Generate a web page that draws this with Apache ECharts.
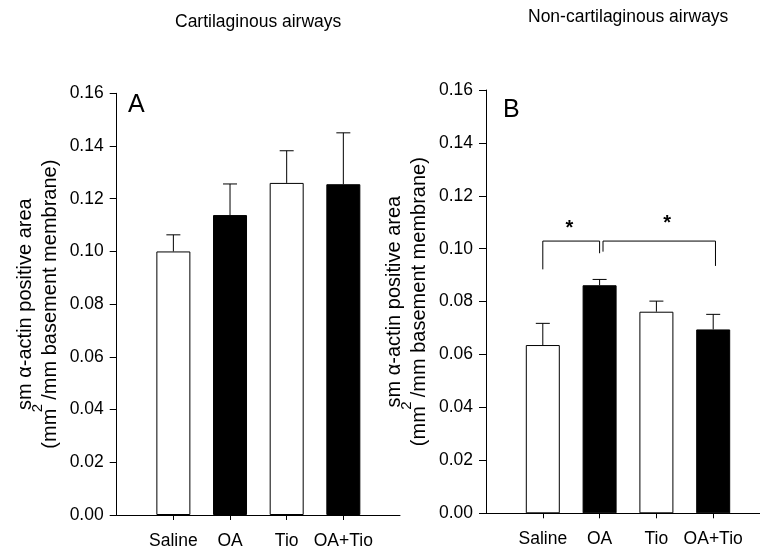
<!DOCTYPE html>
<html><head><meta charset="utf-8">
<script src="https://cdn.jsdelivr.net/npm/echarts@6/dist/echarts.min.js"></script>
<style>html,body{margin:0;padding:0;background:#fff}#c{width:760px;height:555px}</style>
</head><body><div id="c"></div>
<script>
// ---- data ----
const categories = ['Saline', 'OA', 'Tio', 'OA+Tio'];
const yMin = 0, yMax = 0.16, yStep = 0.02;
const panelTitles = ['Cartilaginous airways', 'Non-cartilaginous airways'];
const panelLetters = ['A', 'B'];
const cartMean = [0.1000, 0.1138, 0.1260, 0.1255];
const cartErr = [0.0063, 0.0118, 0.0122, 0.0195];
const nonCartMean = [0.0636, 0.0862, 0.0762, 0.0695];
const nonCartErr = [0.0082, 0.0022, 0.0040, 0.0057];
// significance brackets (panel B), x in category positions (Saline = 1)
const bracketFrom = [1, 2.06];
const bracketTo = [2, 4.04];
const bracketTop = [0.1029, 0.1029];
const bracketLeftEnd = [0.0922, 0.0989];
const bracketRightEnd = [0.0983, 0.0935];
const bracketStarX = [1.47, 3.19];
const bracketStarY = [0.1090, 0.1110];
const bracketLabel = ['*', '*'];

// ---- styles ----
const FONT = 'Liberation Sans, Arial, sans-serif';
const barFill = ['#ffffff', '#000000', '#ffffff', '#000000'];
const axisCats = [''].concat(categories, ['']);

function barData(means) {
  return [null].concat(means.map((v, i) => ({
    value: v,
    itemStyle: { color: barFill[i], borderColor: '#000', borderWidth: 1 }
  })), [null]);
}
function errData(means, errs) {
  return means.map((m, i) => [i + 1, m, errs[i]]);
}
function xPix(api, v) {
  const i = Math.floor(v);
  const a = api.coord([i, 0])[0], b = api.coord([i + 1, 0])[0];
  return a + (b - a) * (v - i);
}
function errRender(params, api) {
  const x = api.value(0), m = api.value(1), e = api.value(2);
  const p0 = api.coord([x, m]), p1 = api.coord([x, m + e]);
  const cap = 7;
  return {
    type: 'group', children: [
      { type: 'line', shape: { x1: p0[0], y1: p0[1], x2: p1[0], y2: p1[1] }, style: { stroke: '#000', lineWidth: 1 } },
      { type: 'line', shape: { x1: p1[0] - cap, y1: p1[1], x2: p1[0] + cap, y2: p1[1] }, style: { stroke: '#000', lineWidth: 1 } }
    ]
  };
}
function bracketRender(params, api) {
  const x0 = xPix(api, api.value(0)), x1 = xPix(api, api.value(1));
  const yT = api.coord([1, api.value(2)])[1];
  const yL = api.coord([1, api.value(3)])[1];
  const yR = api.coord([1, api.value(4)])[1];
  const xs = xPix(api, api.value(5));
  const ys = api.coord([1, api.value(6)])[1];
  return {
    type: 'group', children: [
      { type: 'polyline', shape: { points: [[x0, yL], [x0, yT], [x1, yT], [x1, yR]] }, style: { stroke: '#000', lineWidth: 1, fill: 'none' } },
      { type: 'text', x: xs, y: ys + 4, style: { text: bracketLabel[params.dataIndex], font: 'bold 20px ' + FONT, fill: '#000', align: 'center', verticalAlign: 'middle' } }
    ]
  };
}

const yName = '{a|sm α-actin positive area}\n{s|2}\n{b|(mm}{g| }{b|/mm basement membrane)}';
const yNameStyle = {
  color: '#000', fontFamily: FONT,
  rich: {
    a: { fontSize: 20, lineHeight: 20, fontFamily: FONT, color: '#000', verticalAlign: 'middle' },
    s: { fontSize: 15, lineHeight: 5, height: 5, fontFamily: FONT, color: '#000', padding: [0, 208, 0, 0], verticalAlign: 'middle' },
    b: { fontSize: 20, lineHeight: 20, fontFamily: FONT, color: '#000', verticalAlign: 'middle' },
    g: { fontSize: 20, lineHeight: 20, width: 9, fontFamily: FONT, verticalAlign: 'middle' }
  }
};

function xAxisCfg(gi) {
  return {
    gridIndex: gi, type: 'category', data: axisCats, boundaryGap: false,
    axisLine: { lineStyle: { color: '#000', width: 1 } },
    axisTick: { length: 5, lineStyle: { color: '#000' }, interval: (i) => i > 0 && i < axisCats.length - 1 },
    axisLabel: { interval: 0, margin: 17, color: '#000', fontSize: 17.5, fontFamily: FONT },
    splitLine: { show: false }
  };
}
function yAxisCfg(gi) {
  return {
    gridIndex: gi, type: 'value', min: yMin, max: yMax, interval: yStep,
    name: yName, nameLocation: 'middle', nameRotate: 90, nameGap: 56.5,
    nameTextStyle: yNameStyle,
    axisLine: { show: true, lineStyle: { color: '#000', width: 1 } },
    axisTick: { show: true, length: 7, lineStyle: { color: '#000' } },
    axisLabel: { margin: 13, color: '#000', fontSize: 17.5, fontFamily: FONT, formatter: (v) => v.toFixed(2) },
    splitLine: { show: false }
  };
}

const chart = echarts.init(document.getElementById('c'), null, { renderer: 'canvas' });
chart.setOption({
  animation: false,
  backgroundColor: '#fff',
  title: [
    { text: panelTitles[0], left: 175, top: 12.7, padding: 0, textStyle: { fontSize: 17.5, fontWeight: 'normal', color: '#000', fontFamily: FONT } },
    { text: panelTitles[1], left: 528, top: 7.7, padding: 0, textStyle: { fontSize: 17.5, fontWeight: 'normal', color: '#000', fontFamily: FONT } },
    { text: panelLetters[0], left: 128, top: 93, padding: 0, textStyle: { fontSize: 25, fontWeight: 'normal', color: '#000', fontFamily: FONT } },
    { text: panelLetters[1], left: 503, top: 98, padding: 0, textStyle: { fontSize: 25, fontWeight: 'normal', color: '#000', fontFamily: FONT } }
  ],
  grid: [
    { left: 116.7, top: 93.3, width: 283.3, height: 421.7, outerBoundsMode: 'none', containLabel: false },
    { left: 486, top: 90, width: 284, height: 423.3, outerBoundsMode: 'none', containLabel: false }
  ],
  xAxis: [xAxisCfg(0), xAxisCfg(1)],
  yAxis: [yAxisCfg(0), yAxisCfg(1)],
  series: [
    { type: 'bar', xAxisIndex: 0, yAxisIndex: 0, barWidth: 34, data: barData(cartMean), z: 2 },
    { type: 'custom', xAxisIndex: 0, yAxisIndex: 0, data: errData(cartMean, cartErr), renderItem: errRender, z: 3 },
    { type: 'bar', xAxisIndex: 1, yAxisIndex: 1, barWidth: 34, data: barData(nonCartMean), z: 2 },
    { type: 'custom', xAxisIndex: 1, yAxisIndex: 1, data: errData(nonCartMean, nonCartErr), renderItem: errRender, z: 3 },
    {
      type: 'custom', xAxisIndex: 1, yAxisIndex: 1, renderItem: bracketRender, z: 4,
      data: bracketFrom.map((f, i) => [f, bracketTo[i], bracketTop[i], bracketLeftEnd[i], bracketRightEnd[i], bracketStarX[i], bracketStarY[i]])
    }
  ]
});
</script></body></html>
